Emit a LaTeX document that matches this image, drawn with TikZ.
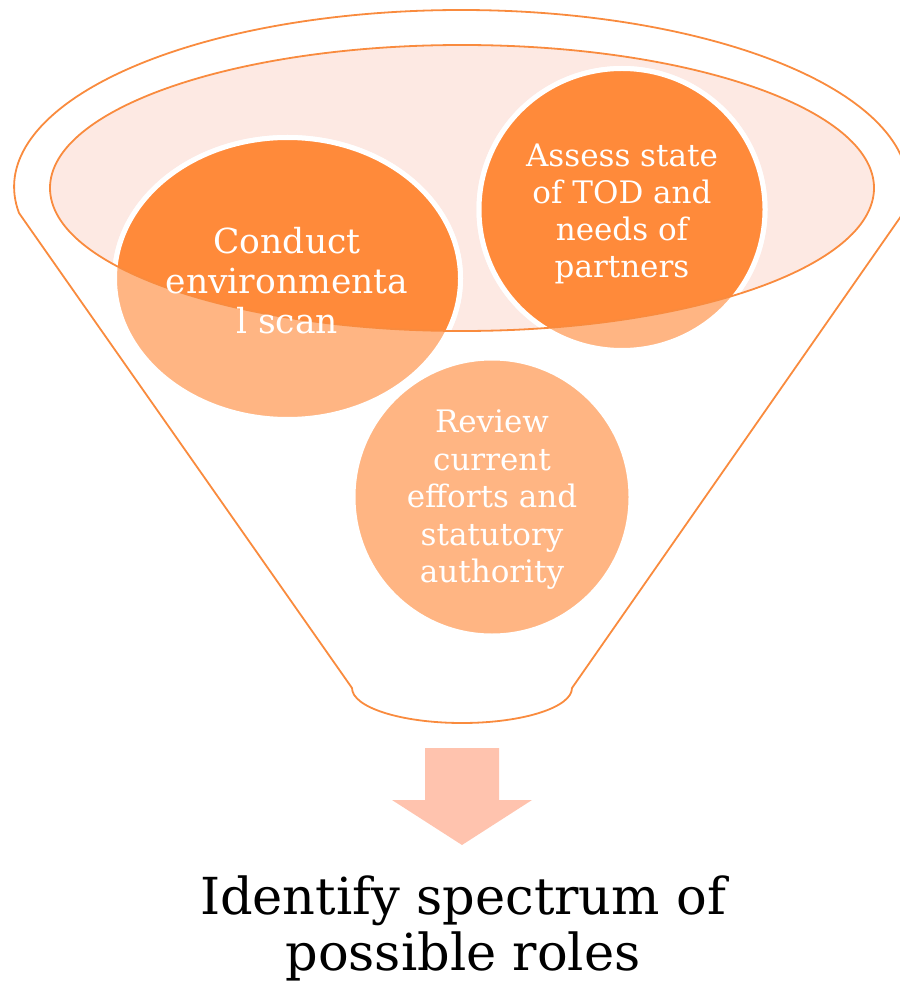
\documentclass[tikz,border=0pt]{standalone}
\usepackage{fontspec}
\setmainfont{DejaVu Serif}
\definecolor{darkor}{HTML}{FF8A3A}
\definecolor{lightor}{HTML}{FFB583}
\definecolor{pinkfill}{HTML}{FDE9E3}
\definecolor{lineor}{HTML}{F98B3E}
\definecolor{arrowor}{HTML}{FFC3AE}
\tikzset{
  funnelline/.style={draw=lineor, line width=1.8pt},
  ringlight/.style={fill=lightor, draw=white, line width=5pt},
  ringdark/.style={fill=darkor, draw=white, line width=5pt},
  circtext/.style={text=white, align=center, inner sep=0pt},
}
\begin{document}
\begin{tikzpicture}[x=1pt, y=-1pt]
\useasboundingbox (0,0) rectangle (899,981);
% inner mouth fill
\fill[pinkfill] (462,188) ellipse [x radius=412, y radius=143];
% circles, light version
\path[ringlight] (287.5,278.5) ellipse [x radius=173, y radius=141];
\path[ringlight] (622,209.5) ellipse [x radius=143, y radius=141];
\path[ringlight] (492,497) ellipse [x radius=139, y radius=139];
% circles, dark inside the mouth
\begin{scope}
  \clip (462,188) ellipse [x radius=412, y radius=143];
  \path[ringdark] (287.5,278.5) ellipse [x radius=173, y radius=141];
  \path[ringdark] (622,209.5) ellipse [x radius=143, y radius=141];
\end{scope}
% mouth outline
\draw[funnelline] (462,188) ellipse [x radius=412, y radius=143];
% funnel outline
\draw[funnelline, line join=round] (19,213) arc [start angle=171.55, end angle=368.45, x radius=447, y radius=177]
  -- (572,688)
  arc [start angle=0, end angle=180, x radius=110, y radius=35]
  -- cycle;
% circle texts
\node[circtext, font=\fontsize{34.5}{40}\selectfont] (c1) at (287,281) {Conduct\\environmenta\\l scan};
\node[circtext, font=\fontsize{31}{37}\selectfont] (c2) at (622,214) {Assess state\\of TOD and\\needs of\\partners};
\node[circtext, font=\fontsize{31}{37.5}\selectfont] (c3) at (492,500) {Review\\current\\efforts and\\statutory\\authority};
% arrow
\fill[arrowor] (425,748) -- (499,748) -- (499,800) -- (532,800) -- (462,845) -- (392,800) -- (425,800) -- cycle;
% result
\node[align=center, inner sep=0pt, font=\fontsize{51}{56}\selectfont] (res) at (463,928) {Identify spectrum of\\possible roles};
\end{tikzpicture}
\end{document}
